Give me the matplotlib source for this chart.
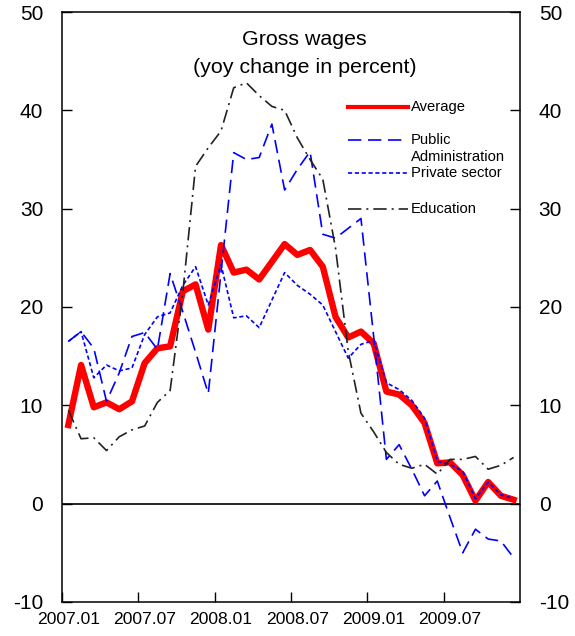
import matplotlib.pyplot as plt

plt.rcParams['font.family'] = ['Liberation Sans', 'DejaVu Sans']
plt.rcParams['axes.unicode_minus'] = False

# monthly data, 2007.01 - 2009.12
months = list(range(36))
tick_labels = ["2007.01", "2007.07", "2008.01", "2008.07", "2009.01", "2009.07"]

average = [8.0, 14.1, 9.8, 10.3, 9.6, 10.4, 14.3, 15.8, 16.0, 21.6,
           22.3, 17.7, 26.3, 23.5, 23.8, 22.8, 24.6, 26.4, 25.3, 25.8,
           24.1, 19.0, 16.9, 17.5, 16.3, 11.4, 11.1, 10.0, 8.2, 4.1,
           4.2, 2.9, 0.3, 2.2, 0.8, 0.4]
public_admin = [16.5, 17.5, 15.8, 10.4, 13.3, 17.0, 17.4, 15.7, 23.4, 19.5,
                15.4, 11.2, 23.5, 35.7, 35.0, 35.2, 38.6, 31.9, 34.0, 35.8,
                27.4, 27.0, 28.0, 29.0, 17.0, 4.5, 6.0, 3.5, 0.8, 2.3,
                -1.4, -5.0, -2.6, -3.6, -3.8, -5.5]
private_sector = [16.5, 17.5, 12.8, 14.1, 13.5, 13.8, 17.2, 19.0, 19.4, 22.2,
                  24.1, 20.2, 24.3, 18.9, 19.1, 17.9, 20.7, 23.5, 22.2, 21.3,
                  20.2, 17.5, 14.8, 16.2, 16.6, 12.3, 11.6, 10.5, 8.7, 4.3,
                  4.0, 3.3, 0.5, 2.2, 0.9, 0.5]
education = [9.5, 6.6, 6.7, 5.4, 6.8, 7.5, 7.9, 10.3, 11.5, 21.5,
             34.3, 36.2, 37.9, 42.3, 42.8, 41.5, 40.4, 40.0, 37.2, 35.0,
             33.0, 26.0, 15.5, 9.2, 7.3, 5.2, 4.0, 3.6, 4.0, 3.0,
             4.5, 4.5, 4.8, 3.5, 3.9, 4.7]

# line styles
styles = {
    "Average": dict(color="#ff0000", lw=4.6, ls="-"),
    "Public": dict(color="#0000ff", lw=1.2, ls=(0, (8, 4))),
    "Private sector": dict(color="#0000ff", lw=1.2, ls=(0, (2.5, 1.6))),
    "Education": dict(color="#222222", lw=1.2, ls=(0, (8, 3, 1.2, 3))),
}

fig = plt.figure(figsize=(5.75, 6.36), dpi=100)
ax = fig.add_axes([0.1078, 0.0535, 0.7965, 0.9276])

ax.plot(months, average, **styles["Average"], zorder=2)
ax.plot(months, public_admin, **styles["Public"], zorder=3)
ax.plot(months, private_sector, **styles["Private sector"], zorder=3)
ax.plot(months, education, **styles["Education"], zorder=3)
ax.axhline(0, color="black", lw=1.2, zorder=1)

ax.set_xlim(-0.5, 35.5)
ax.set_ylim(-10, 50)
ax.set_yticks(range(-10, 51, 10))

# ticks between months, labels centred on the month
ax.set_xticks([6 * k - 0.5 for k in range(len(tick_labels))])
ax.set_xticks([6 * k for k in range(len(tick_labels))], minor=True)
ax.set_xticklabels(tick_labels, minor=True)
ax.tick_params(axis="x", which="major", direction="in", length=7, width=1, labelbottom=False)
ax.tick_params(axis="x", which="minor", length=0, labelsize=12.6, pad=7)
ax.tick_params(axis="y", direction="in", length=7, width=1, labelsize=15, pad=13.5,
               right=True, labelright=True)

for s in ax.spines.values():
    s.set_linewidth(1.1)

# title inside the plot
ax.text(0.53, 0.953, "Gross wages", transform=ax.transAxes, ha="center", va="center", fontsize=15.4)
ax.text(0.53, 0.906, "(yoy change in percent)", transform=ax.transAxes, ha="center", va="center", fontsize=15.4)

# hand-placed legend
key_y = {"Average": 0.839, "Public": 0.783, "Private sector": 0.727, "Education": 0.666}
for name, y in key_y.items():
    st = dict(styles[name])
    if name == "Average":
        st["lw"] = 3
    ax.plot([0.624, 0.755], [y, y], transform=ax.transAxes, **st)
    ax.text(0.762, y, name, transform=ax.transAxes, ha="left", va="center", fontsize=10.6)
ax.text(0.762, 0.754, "Administration", transform=ax.transAxes, ha="left", va="center", fontsize=10.6)

fig.savefig("out.png", dpi=100)
